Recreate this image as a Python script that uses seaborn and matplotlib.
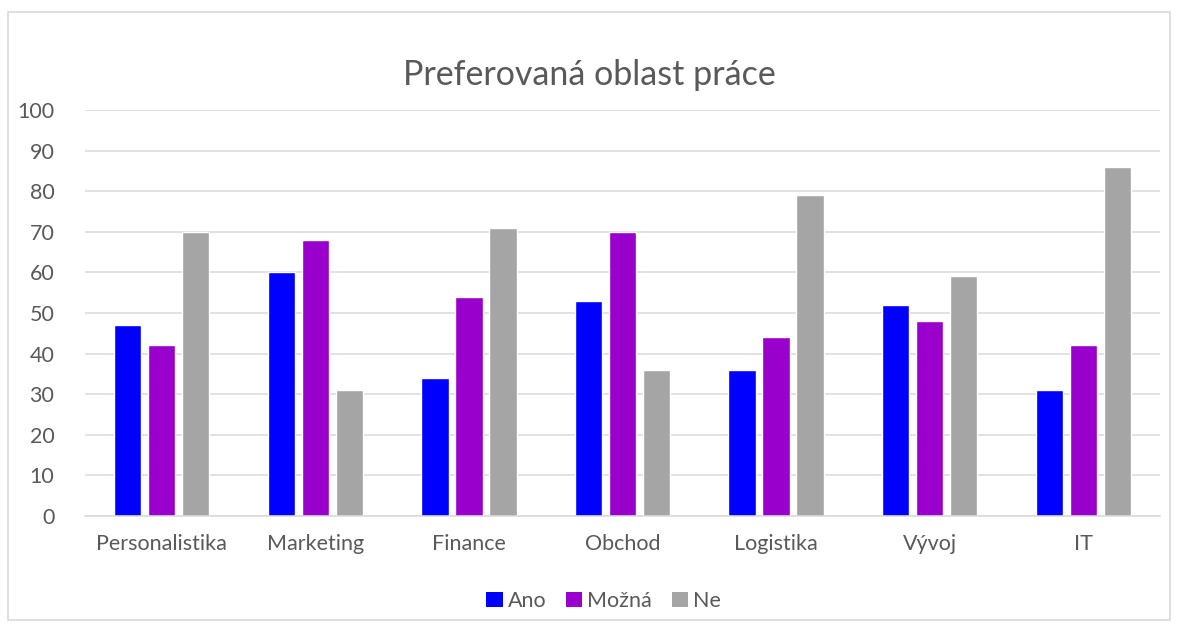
import matplotlib
matplotlib.use("Agg")
import matplotlib.pyplot as plt
import seaborn as sns
import pandas as pd
from matplotlib.patches import Rectangle, Patch

categories = ["Personalistika", "Marketing", "Finance", "Obchod", "Logistika", "Vývoj", "IT"]
ano = [47, 60, 34, 53, 36, 52, 31]
mozna = [42, 68, 54, 70, 44, 48, 42]
ne = [70, 31, 71, 36, 79, 59, 86]
series = ["Ano", "Možná", "Ne"]
colors = ["#0000FF", "#9900CC", "#A5A5A5"]
yticks = list(range(0, 101, 10))

rows = []
for s, vals in zip(series, [ano, mozna, ne]):
    for c, v in zip(categories, vals):
        rows.append({"Oblast": c, "Odpověď": s, "Hodnota": v})
df = pd.DataFrame(rows)

sns.set_theme(style="white")
plt.rcParams['font.family'] = ['Lato', 'DejaVu Sans']

fig = plt.figure(figsize=(11.79, 6.32), dpi=100)
ax = fig.add_axes([85/1179, 1-516/632, (1160-85)/1179, (516-110)/632])

sns.barplot(data=df, x="Oblast", y="Hodnota", hue="Odpověď", order=categories,
            hue_order=series, palette=colors, width=0.664, gap=0.2,
            saturation=1, ax=ax, legend=False, errorbar=None)

ax.set_ylim(0, 100)
ax.set_xlim(-0.5, len(categories) - 0.5)
ax.set_yticks(yticks)
ax.set_yticklabels([str(t) for t in yticks])
ax.yaxis.grid(True, color="#D9D9D9", linewidth=1.1)
ax.set_axisbelow(True)
for side in ["top", "right", "left"]:
    ax.spines[side].set_visible(False)
ax.spines["bottom"].set_color("#D9D9D9")
ax.spines["bottom"].set_linewidth(1.1)
ax.set_xlabel("")
ax.set_ylabel("")
ax.tick_params(axis="both", length=0, colors="#595959", labelsize=15.5)
ax.tick_params(axis="x", pad=13)
ax.tick_params(axis="y", pad=22)
for lbl in ax.get_yticklabels():
    lbl.set_horizontalalignment("right")

fig.text(0.5, 1-75/632, "Preferovaná oblast práce", ha="center", va="center",
         fontsize=24.5, color="#595959")

handles = [Patch(facecolor=c, edgecolor="none") for c in colors]
fig.legend(handles, series, loc="center", bbox_to_anchor=(0.512, 1-601/632), ncol=3,
           frameon=False, fontsize=15.5, labelcolor="#595959", handlelength=0.75,
           handleheight=0.75, handletextpad=0.25, columnspacing=0.9)

fig.patches.append(Rectangle((8/1179, 1-620/632), (1170-8)/1179, (620-12)/632,
                             transform=fig.transFigure, fill=False,
                             edgecolor="#D9D9D9", linewidth=1.2))

fig.savefig("out.png", dpi=100, facecolor="white")
